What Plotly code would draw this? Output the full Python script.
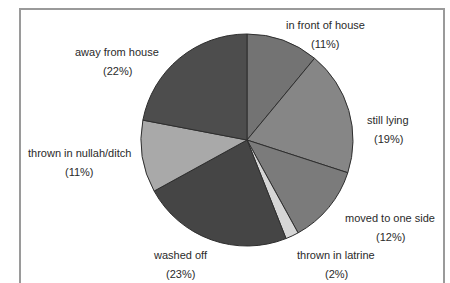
import plotly.graph_objects as go

categories = ["in front of house", "still lying", "moved to one side", "thrown in latrine",
              "washed off", "thrown in nullah/ditch", "away from house"]
values = [11, 19, 12, 2, 23, 11, 22]
pct_labels = ["(11%)", "(19%)", "(12%)", "(2%)", "(23%)", "(11%)", "(22%)"]

colors = ["#737373", "#868686", "#7b7b7b", "#d6d6d6", "#454545", "#a9a9a9", "#4d4d4d"]
# label anchor positions in pixels (x center, y of first line from top)
label_pos = [(325, 25), (388, 120), (390, 218), (336, 255), (180, 255), (79, 153), (117, 52)]

W, H = 450, 283
cx, cy, r = 247, 140, 106

fig = go.Figure(go.Pie(
    labels=categories, values=values, sort=False, direction="clockwise", rotation=0,
    marker=dict(colors=colors, line=dict(color="#2e2e2e", width=1)),
    textinfo="none", hoverinfo="label+percent", showlegend=False,
    domain=dict(x=[(cx - r) / W, (cx + r) / W], y=[(H - cy - r) / H, (H - cy + r) / H]),
))

font = dict(family="Liberation Sans Narrow, Arial Narrow, Liberation Sans, Arial", size=11, color="#2a2a2a")
annotations = []
for name, pct, (px, py) in zip(categories, pct_labels, label_pos):
    annotations.append(dict(x=px / W, y=1 - py / H, xref="paper", yref="paper", text=name,
                            showarrow=False, font=font, xanchor="center", yanchor="middle"))
    annotations.append(dict(x=px / W, y=1 - (py + 19) / H, xref="paper", yref="paper", text=pct,
                            showarrow=False, font=font, xanchor="center", yanchor="middle"))

fig.update_layout(
    width=W, height=H, margin=dict(l=0, r=0, t=0, b=0),
    paper_bgcolor="white", plot_bgcolor="white",
    annotations=annotations,
    shapes=[dict(type="rect", xref="paper", yref="paper", x0=20 / W, x1=444 / W,
                 y0=-0.05, y1=1 - 9 / H, line=dict(color="#9a9a9a", width=2), fillcolor="rgba(0,0,0,0)")],
)
fig.write_html("out.html", config={"displayModeBar": False},
               post_script="document.body.style.margin='0';document.body.style.overflow='hidden';")
